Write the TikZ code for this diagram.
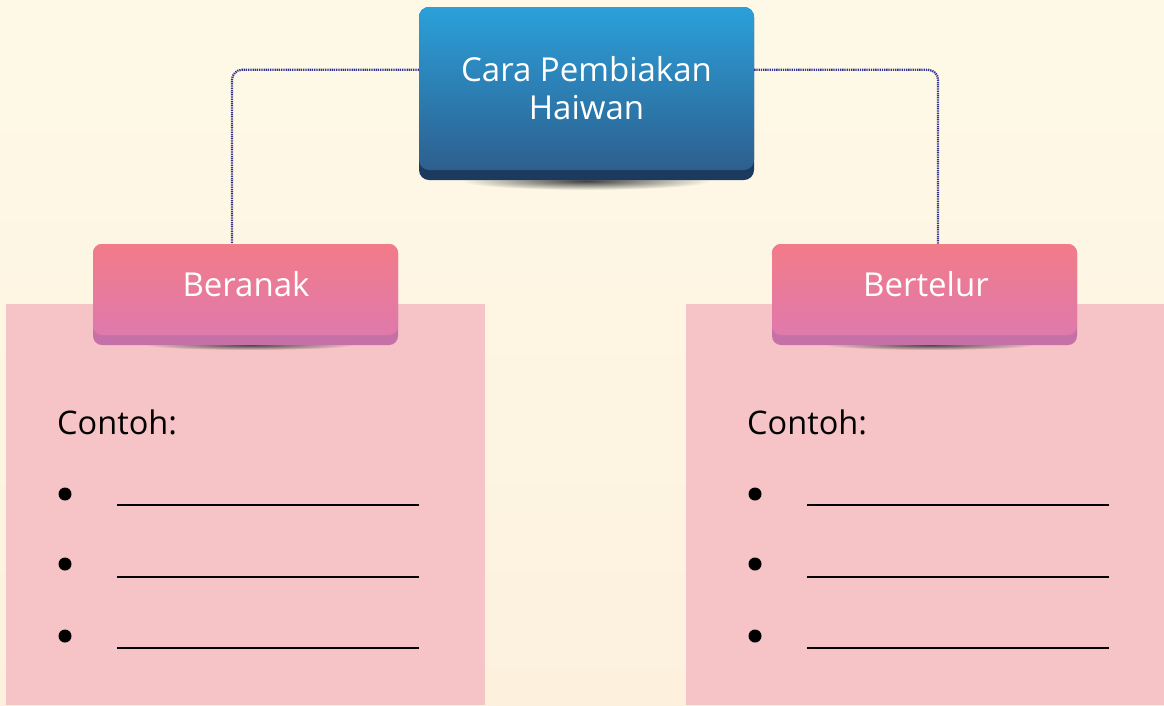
\documentclass[tikz,border=0pt]{standalone}
\usepackage{fontspec}
\setmainfont{Open Sans}
\usetikzlibrary{calc}
\definecolor{bgtop}{RGB}{254,249,231}
\definecolor{bgbot}{RGB}{253,241,222}
\definecolor{panel}{RGB}{246,195,198}
\definecolor{bluetop}{RGB}{43,160,218}
\definecolor{bluebot}{RGB}{45,95,142}
\definecolor{bluebase}{RGB}{28,58,94}
\definecolor{pinktop}{RGB}{242,123,136}
\definecolor{pinkbot}{RGB}{223,122,173}
\definecolor{pinkbase}{RGB}{197,113,168}
\definecolor{conncol}{RGB}{50,50,140}
\tikzset{
  x=1pt, y=-1pt,
  conn/.style={draw=conncol, line width=2.2pt, dash pattern=on 1.3pt off 0.9pt, rounded corners=10pt},
  bluebox/.style={rounded corners=10pt, top color=bluetop, bottom color=bluebot, draw=none,
     minimum width=335pt, minimum height=163pt, inner sep=0pt, text=white,
     font=\fontsize{33}{41}\selectfont, align=center},
  pinkbox/.style={rounded corners=9pt, top color=pinktop, bottom color=pinkbot, draw=none,
     minimum width=305pt, minimum height=91pt, inner sep=0pt, text=white,
     font=\fontsize{33}{38}\selectfont},
  basebox/.style={rounded corners=9pt, fill=#1, draw=none, inner sep=0pt},
  boxtext/.style={font=\fontsize{33}{38}\selectfont, text=white, inner sep=0pt, anchor=base},
  labeltext/.style={font=\fontsize{32.5}{38}\selectfont, text=black, inner sep=0pt, anchor=base west},
  blank/.style={draw=black, line width=1.3pt},
  bullet/.style={fill=black, circle, inner sep=0pt, minimum size=13pt}
}
\begin{document}
\begin{tikzpicture}
\useasboundingbox (0,0) rectangle (1164,705);
% background
\shade[top color=bgtop, bottom color=bgbot] (0,0) rectangle (1164,705);
% panels
\fill[panel] (6,304) rectangle (485,705);
\fill[panel] (686,304) rectangle (1164,705);
% shadows
\shade[inner color=black!75, outer color=bgtop] (586,181) ellipse (125 and 9);
\shade[inner color=black!75, outer color=panel] (250,345) ellipse (105 and 5);
\shade[inner color=black!75, outer color=panel] (930,345) ellipse (105 and 5);
% bases
\node[basebox=bluebase, rounded corners=10pt, minimum width=335pt, minimum height=173pt] (topbase) at (586.5,93.5) {};
\node[basebox=pinkbase, minimum width=305pt, minimum height=101pt] (berbase) at (245.5,294.5) {};
\node[basebox=pinkbase, minimum width=305pt, minimum height=101pt] (betbase) at (924.5,294.5) {};
% boxes
\node[bluebox] (top) at (586.5,88.5) {Cara Pembiakan\\[-3pt]Haiwan};
\node[pinkbox] (ber) at (245.5,289.5) {};
\node[pinkbox] (bet) at (924.5,289.5) {};
\node[boxtext] (bertxt) at (246,296) {Beranak};
\node[boxtext] (bettxt) at (926,296) {Bertelur};
% connectors
\draw[conn] ([yshift=-63pt]top.north west) -| ([xshift=-13.5pt]ber.north);
\draw[conn] ([yshift=-63pt]top.north east) -| ([xshift=13.5pt]bet.north);
% Contoh
\node[labeltext] (c1) at (57,434) {Contoh:};
\node[labeltext] (c2) at (747,434) {Contoh:};
% bullets and blanks
\foreach \i/\by/\ly in {1/494/505, 2/564/577, 3/636/648}{
  \node[bullet] (lb\i) at (65,\by) {};
  \coordinate (la\i) at (117,\ly);
  \coordinate (lz\i) at (419,\ly);
  \draw[blank] (la\i) -- (lz\i);
  \node[bullet] (rb\i) at (755,\by) {};
  \coordinate (ra\i) at (807,\ly);
  \coordinate (rz\i) at (1109,\ly);
  \draw[blank] (ra\i) -- (rz\i);
}
\end{tikzpicture}
\end{document}
